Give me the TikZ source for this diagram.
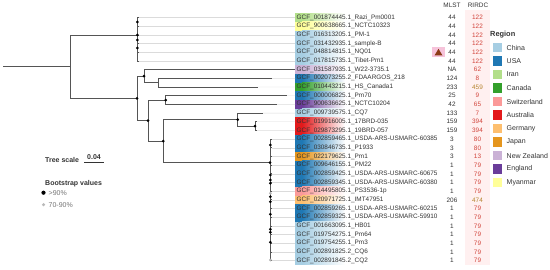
\documentclass[tikz,border=0pt]{standalone}
\usepackage{fontspec}
\setmainfont{Liberation Sans}
\definecolor{cchina}{HTML}{A6CEE3}
\definecolor{cusa}{HTML}{1F78B4}
\definecolor{ciran}{HTML}{B2DF8A}
\definecolor{ccanada}{HTML}{33A02C}
\definecolor{cswiss}{HTML}{FB9A99}
\definecolor{caus}{HTML}{E31A1C}
\definecolor{cgermany}{HTML}{FDBF6F}
\definecolor{cjapan}{HTML}{E5961E}
\definecolor{cnz}{HTML}{CAB2D6}
\definecolor{cengland}{HTML}{6A3D9A}
\definecolor{cmyanmar}{HTML}{FFFF99}
\definecolor{branch}{HTML}{555555}
\definecolor{labtxt}{HTML}{333333}
\definecolor{rred}{HTML}{D2453C}
\definecolor{rbrown}{HTML}{B5842E}
\definecolor{trimark}{HTML}{8C3B17}
\definecolor{trimarkbg}{HTML}{F6C3DA}
\tikzset{treefig/.style={x=1pt,y=-1pt,font=\fontsize{6.4}{7}\selectfont},
  edge/.style={branch,line width=0.8pt},
  guide/.style={gray!28,line width=0.4pt},
  legtxt/.style={font=\fontsize{7}{8}\selectfont,text=labtxt,anchor=west,inner sep=0pt}}

\begin{document}
\begin{tikzpicture}[treefig]
    \useasboundingbox (0,0) rectangle (550,270);
    \def\rh{8.68}
    % RIRDC column tint
    \fill[red!6] (465,10) rectangle (490,265);
    % labels, regions and typing columns
    \foreach \i/\lab/\reg/\ml/\rd/\rc in {
        1/001874445.1\_Razi\_Pm0001/ciran/44/122/rred,
        2/900638665.1\_NCTC10323/cmyanmar/44/122/rred,
        3/016313205.1\_PM-1/cchina/44/122/rred,
        4/031432935.1\_sample-B/cchina/44/122/rred,
        5/048814815.1\_NQ01/cchina/44/122/rred,
        6/017815735.1\_Tibet-Pm1/cchina/44/122/rred,
        7/031587935.1\_W22-3735.1/cnz/NA/62/rred,
        8/002073255.2\_FDAARGOS\_218/cusa/124/8/rred,
        9/010443215.1\_HS\_Canada1/ccanada/233/459/rbrown,
        10/000006825.1\_Pm70/cusa/25/9/rred,
        11/900636625.1\_NCTC10204/cengland/42/65/rred,
        12/009739575.1\_CQ7/cchina/133/7/rred,
        13/019916005.1\_17BRD-035/caus/159/394/rred,
        14/029873295.1\_19BRD-057/caus/159/394/rred,
        15/002859465.1\_USDA-ARS-USMARC-60385/cusa/3/80/rred,
        16/030846735.1\_P1933/cusa/3/80/rred,
        17/022179625.1\_Pm1/cjapan/3/13/rred,
        18/009646155.1\_PM22/cusa/1/79/rred,
        19/002859425.1\_USDA-ARS-USMARC-60675/cusa/1/79/rred,
        20/002859345.1\_USDA-ARS-USMARC-60380/cusa/1/79/rred,
        21/014495805.1\_PS3536-1p/cswiss/1/79/rred,
        22/020971725.1\_IMT47951/cgermany/206/474/rbrown,
        23/002859265.1\_USDA-ARS-USMARC-60215/cusa/1/79/rred,
        24/002859325.1\_USDA-ARS-USMARC-59910/cusa/1/79/rred,
        25/001663095.1\_HB01/cchina/1/79/rred,
        26/019754275.1\_Pm64/cchina/1/79/rred,
        27/019754255.1\_Pm3/cchina/1/79/rred,
        28/002891825.2\_CQ6/cchina/1/79/rred,
        29/002891845.2\_CQ2/cchina/1/79/rred} {
      \pgfmathsetmacro\ry{17.6+\rh*(\i-1)}
      \coordinate (l\i) at (295,\ry);
      \shade[left color=\reg, right color=white] (302,{\ry-\rh/2}) rectangle (345,{\ry+\rh/2});
      \fill[\reg] (295,{\ry-\rh/2}) rectangle (302.2,{\ry+\rh/2});
      \node[anchor=west,inner sep=0pt,text=labtxt] (g\i) at (296.5,\ry) {GCF\_\lab};
      \node[text=labtxt,inner sep=0pt] (m\i) at (452,\ry) {\ml};
      \node[text=\rc,inner sep=0pt] (c\i) at (477.5,\ry) {\rd};
    }
    \node[text=labtxt] (hmlst) at (452,5) {MLST};
    \node[text=labtxt] (hrirdc) at (478,5) {RIRDC};
    % marker on NQ01
    \fill[trimarkbg] (432,47) rectangle (445,57.5);
    \fill[trimark] (434.5,55.5) -- (438.5,48.8) -- (442.5,55.5) -- cycle;
    % tips
    \foreach \i in {1,...,6} \coordinate (t\i) at (138.5,{17.6+\rh*(\i-1)});
    \foreach \i in {15,...,29} \coordinate (t\i) at (271.5,{17.6+\rh*(\i-1)});
    \coordinate (t7) at (295,69.68);
    \coordinate (t8) at (272,78.36);
    \coordinate (t9) at (258,87.04);
    \coordinate (t10) at (287,95.72);
    \coordinate (t11) at (276.5,104.4);
    \coordinate (t12) at (262.7,113.08);
    \coordinate (t13) at (256.5,121.76);
    \coordinate (t14) at (256.5,130.44);
    % guide lines to labels
    \foreach \i in {1,...,6,8,9,10,11,12,13,14,15,16,17,18,19,20,21,22,23,24,25,26,27,28,29}
      \draw[guide] (t\i) -- (l\i);
    % internal nodes
    \coordinate (root) at (3,66.7);
    \coordinate (nR) at (70,66.7);
    \coordinate (nA) at (137,35);
    \coordinate (nB) at (137,98.4);
    \coordinate (nC) at (144,76.19);
    \coordinate (nD) at (158,82.7);
    \coordinate (nE) at (148,120.6);
    \coordinate (nF) at (165.7,100.06);
    \coordinate (nG) at (163.3,141.15);
    \coordinate (nH) at (237.7,119.59);
    \coordinate (nI) at (255,126.1);
    \coordinate (nJ) at (270,162.7);
    \draw[edge] (root) -- (nR);
    \draw[edge] (nR) |- (nA);
    \draw[edge] (nR) |- (nB);
    \foreach \i in {1,...,6} \draw[edge] (nA) |- (t\i);
    \draw[edge] (nB) |- (nC);
    \draw[edge] (nB) |- (nE);
    \draw[edge] (nC) |- (t7);
    \draw[edge] (nC) |- (nD);
    \draw[edge] (nD) |- (t8);
    \draw[edge] (nD) |- (t9);
    \draw[edge] (nE) |- (nF);
    \draw[edge] (nE) |- (nG);
    \draw[edge] (nF) |- (t10);
    \draw[edge] (nF) |- (t11);
    \draw[edge] (nG) |- (nH);
    \draw[edge] (nG) |- (nJ);
    \draw[edge] (nH) |- (t12);
    \draw[edge] (nH) |- (nI);
    \draw[edge] (nI) |- (t13);
    \draw[edge] (nI) |- (t14);
    \foreach \i in {15,...,29} \draw[edge] (nJ) |- (t\i);
    % bootstrap dots
    \foreach \p in {nB,nC,nE,nF,nG,nH,nI,nJ} \fill (\p) circle (1.5);
    \foreach \y in {22,35,40,48} \fill (137.3,\y) circle (1.5);
    \foreach \y in {145,175,180,183.3,196.7,201.7,214.3,229.3,232.3,242.3} \fill (270.3,\y) circle (1.5);
    \foreach \y in {193.3,260} \fill[gray!60] (270.3,\y) circle (1.5);
    % tree scale
    \node[legtxt,font=\fontsize{7}{8}\selectfont\bfseries] (tscale) at (45,159.5) {Tree scale};
    \coordinate (sbl) at (84,162.5);
    \coordinate (sbr) at (104,162.5);
    \draw[line width=0.9pt,labtxt] (sbl) -- (sbr);
    \node[font=\fontsize{7}{8}\selectfont\bfseries,text=labtxt,inner sep=0pt] (sval) at (94,157.2) {0.04};
    % bootstrap legend
    \node[legtxt,font=\fontsize{7}{8}\selectfont\bfseries] (bhead) at (45,184) {Bootstrap values};
    \fill (43.5,192.7) circle (2.1);
    \node[legtxt,text=gray!90!black] (bhi) at (48.5,192.7) {>90\%};
    \fill[gray!55] (43.5,204.7) circle (1.7);
    \node[legtxt,text=gray!90!black] (bmid) at (48.5,204.7) {70-90\%};
    % region legend
    \node[legtxt,font=\fontsize{7.4}{8}\selectfont\bfseries] (rhead) at (490,35) {Region};
    \foreach \k/\c/\t in {0/cchina/China,1/cusa/USA,2/ciran/Iran,3/ccanada/Canada,
        4/cswiss/Switzerland,5/caus/Australia,6/cgermany/Germany,7/cjapan/Japan,
        8/cnz/New Zealand,9/cengland/England,10/cmyanmar/Myanmar} {
      \fill[\c] (492.8,{47.5+13.5*\k-4.8}) rectangle (502.4,{47.5+13.5*\k+4.8});
      \node[legtxt] (reg\k) at (506.5,{47.5+13.5*\k}) {\t};
    }
  \end{tikzpicture}
\end{document}
